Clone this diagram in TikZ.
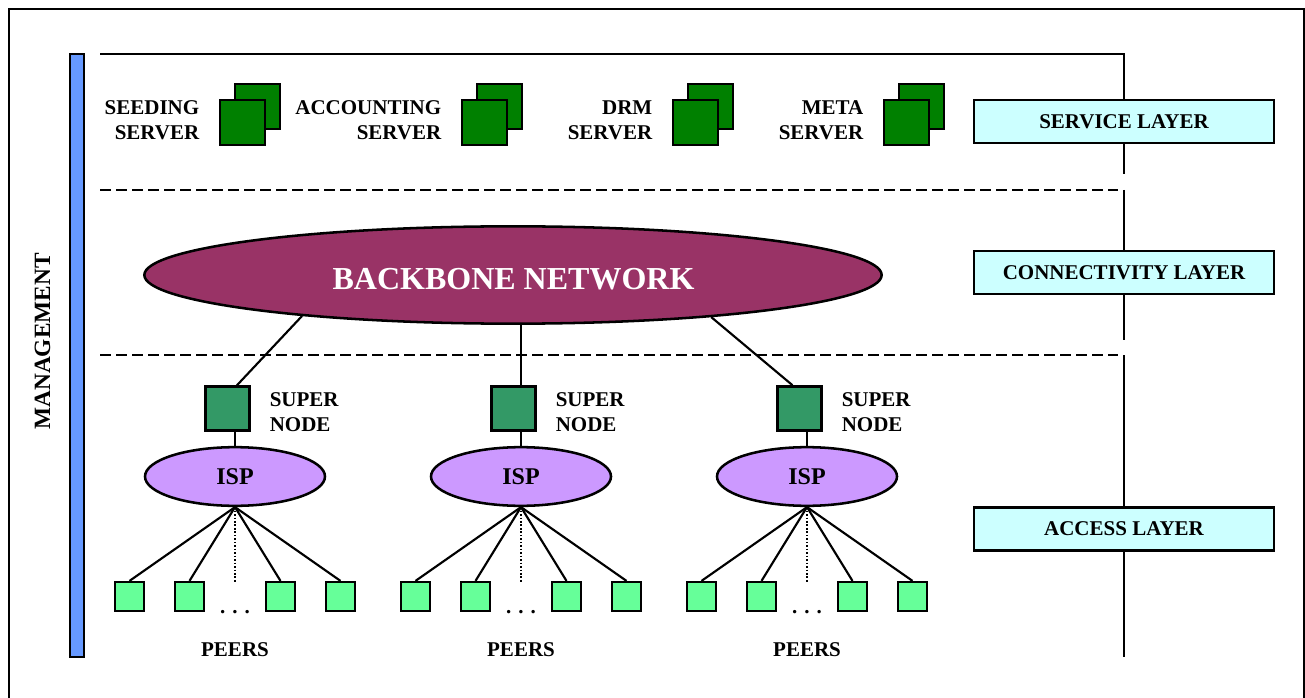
\documentclass[tikz,border=0pt]{standalone}
\usepackage{fontspec}
\setmainfont{Liberation Serif}
\usetikzlibrary{shapes.geometric,calc}

\definecolor{srvgreen}{HTML}{008000}
\definecolor{sngreen}{HTML}{339966}
\definecolor{peergreen}{HTML}{66FF99}
\definecolor{ispviolet}{HTML}{CC99FF}
\definecolor{bbpurple}{HTML}{993366}
\definecolor{layercyan}{HTML}{CCFFFF}
\definecolor{mgmtblue}{HTML}{6699FF}

\begin{document}
\begin{tikzpicture}[x=0.75pt,y=-0.75pt,
  lw/.style={line width=1.9pt},
  txt/.style={font=\bfseries\fontsize{15.75}{18.75}\selectfont, inner sep=0pt},
  srv/.style={draw, line width=1.9pt, fill=srvgreen, minimum size=33.5pt, inner sep=0pt},
  supernode/.style={draw, line width=1.9pt, fill=sngreen, minimum size=33pt, inner sep=0pt},
  peer/.style={draw, line width=1.9pt, fill=peergreen, minimum size=21.5pt, inner sep=0pt},
  isp/.style={ellipse, draw, line width=1.9pt, fill=ispviolet, minimum width=135pt,
    minimum height=44pt, inner sep=0pt, font=\bfseries\fontsize{18}{20}\selectfont},
  layerbox/.style={draw, line width=1.9pt, fill=layercyan, minimum width=225pt,
    minimum height=32.25pt, inner sep=0pt, font=\bfseries\fontsize{15.75}{18.75}\selectfont},
  link/.style={line width=1.6pt},
  sepline/.style={line width=2pt, dash pattern=on 8.25pt off 3.75pt},
  dotline/.style={line width=1.5pt, dash pattern=on 1.2pt off 1.4pt}
]
\useasboundingbox (0,0) rectangle (1305,698);

% outer frame
\draw[line width=1.2pt] (9,720) -- (9,9) -- (1304,9) -- (1304,720);

% management bar
\draw[lw, fill=mgmtblue] (70,54) rectangle (84,657);
\node[txt, font=\bfseries\fontsize{17.5}{20}\selectfont, rotate=90] (mgmt) at (42.5,341.5) {MANAGEMENT};

% layer boxes on the right
\node[layerbox] (svc) at (1124,121.5) {SERVICE LAYER};
\node[layerbox] (conn) at (1124,272.5) {CONNECTIVITY LAYER};
\node[layerbox] (acc) at (1124,529) {ACCESS LAYER};

% layer frame and separators
\coordinate (ltop) at (100,54);
\coordinate (lcorner) at (1124,54);
\coordinate (l1end) at (1124,174);
\coordinate (l2start) at (1124,190);
\coordinate (l2end) at (1124,340);
\coordinate (l3start) at (1124,355);
\coordinate (lbottom) at (1124,657);
\draw[lw] (ltop) -- (lcorner) -- (svc.north);
\draw[lw] (svc.south) -- (l1end);
\draw[lw] (l2start) -- (conn.north);
\draw[lw] (conn.south) -- (l2end);
\draw[lw] (l3start) -- (acc.north);
\draw[lw] (acc.south) -- (lbottom);
\coordinate (s1a) at (100,190);
\coordinate (s1b) at (1118,190);
\coordinate (s2a) at (100,355);
\coordinate (s2b) at (1118,355);
\draw[sepline] (s1a) -- (s1b);
\draw[sepline] (s2a) -- (s2b);

% servers of the service layer
\foreach \n/\fx/\name in {seed/242.5/SEEDING, acct/484.5/ACCOUNTING, drm/695.5/DRM, meta/906.5/META} {
  \node[srv] (\n-back) at (\fx+15,106.5) {};
  \node[srv] (\n-front) at (\fx,122.5) {};
  \node[txt, anchor=east, align=right] (\n-label) at (\fx-43,120) {\name\\SERVER};
}

% backbone
\node[ellipse, draw, line width=1.9pt, fill=bbpurple, minimum width=553pt,
  minimum height=73pt, inner sep=0pt] (bb) at (513,275) {};
\node[font=\bfseries\fontsize{24}{28}\selectfont, text=white, inner sep=0pt] (bbl) at (513.5,279.5) {BACKBONE NETWORK};

% access groups
\foreach \g/\cx in {1/235, 2/521, 3/807} {
  \node[supernode] (sn\g) at (\cx-7.5,408.5) {};
  \node[txt, anchor=west, align=left] (snl\g) at (\cx+34.5,412) {SUPER\\NODE};
  \node[isp] (isp\g) at (\cx,476.5) {ISP};
  \draw[link] (sn\g.south -| isp\g.north) -- (isp\g.north);
  \node[peer] (p\g a) at (\cx-105.5,596.5) {};
  \node[peer] (p\g b) at (\cx-45.5,596.5) {};
  \node[peer] (p\g c) at (\cx+45.5,596.5) {};
  \node[peer] (p\g d) at (\cx+105.5,596.5) {};
  \foreach \p in {a,b,c,d} \draw[link] (isp\g.south) -- (p\g\p.north);
  \coordinate (dotend\g) at (\cx,582);
  \draw[dotline] (isp\g.south) -- (dotend\g);
  \node[txt, anchor=base] (dots\g) at (\cx,613) {.\,\,.\,\,.};
  \node[txt] (peers\g) at (\cx,650) {PEERS};
}

% links from backbone to super nodes
\draw[link] (bb.191.4) -- ($(sn1.north)+(9.5,0)$);
\draw[link] (bb.south -| isp2.north) -- (sn2.north -| isp2.north);
\draw[link] (bb.348.7) -- ($(sn3.north)+(-7,0)$);
\end{tikzpicture}
\end{document}
